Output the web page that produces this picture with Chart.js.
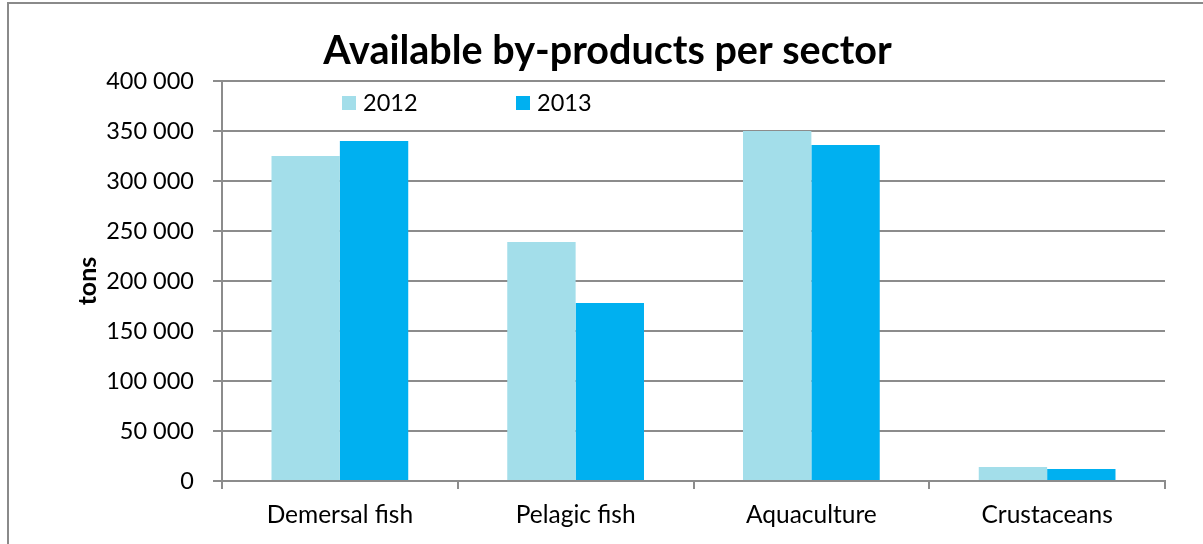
<!DOCTYPE html>
<html>
<head>
<meta charset="utf-8">
<script src="https://cdn.jsdelivr.net/npm/chart.js@4/dist/chart.umd.min.js"></script>
<style>
  html, body { margin: 0; padding: 0; background: #fff; overflow: hidden; }
  #frame { position: absolute; left: 7px; top: 2px; width: 1400px; height: 800px;
           border-left: 2px solid #8a8a8a; border-top: 2px solid #8a8a8a; }
  #chart { position: absolute; left: 0; top: 0; }
</style>
</head>
<body>
<div id="frame"></div>
<canvas id="chart" width="1203" height="544"></canvas>
<script>
const categories = ['Demersal fish', 'Pelagic fish', 'Aquaculture', 'Crustaceans'];
const seriesNames = ['2012', '2013'];
const values2012 = [325000, 239000, 350000, 14000];
const values2013 = [340000, 178000, 336000, 12000];
const yMin = 0;
const yMax = 400000;
const yStep = 50000;

const gridGray = '#8c8c8c';
const fontFamily = 'Lato, "DejaVu Sans", sans-serif';

const fmt = v => String(v).replace(/\B(?=(\d{3})+(?!\d))/g, ' ');

// legend sits inside the plot, like the original
const insideLegend = {
    id: 'insideLegend',
    afterDraw: (chart) => {
        const ctx = chart.ctx;
        const xs = [342, 516];
        ctx.save();
        ctx.font = '23.5px ' + fontFamily;
        ctx.textBaseline = 'middle';
        ctx.textAlign = 'left';
        chart.data.datasets.forEach((ds, i) => {
            ctx.fillStyle = ds.backgroundColor;
            ctx.fillRect(xs[i], 96, 14, 14);
            ctx.fillStyle = '#000';
            ctx.fillText(ds.label, xs[i] + 21, 103);
        });
        ctx.restore();
    }
};

const ctx = document.getElementById('chart').getContext('2d');
const chart = new Chart(ctx, {
    type: 'bar',
    plugins: [insideLegend],
    data: {
        labels: categories,
        datasets: [{
            label: seriesNames[0],
            data: values2012,
            backgroundColor: '#a3deea',
            categoryPercentage: 0.58,
            barPercentage: 1
        }, {
            label: seriesNames[1],
            data: values2013,
            backgroundColor: '#00b0f0',
            categoryPercentage: 0.58,
            barPercentage: 1
        }]
    },
    options: {
        responsive: false,
        animation: false,
        devicePixelRatio: 1,
        layout: { padding: { left: 50, right: 38, top: 0, bottom: 0 } },
        plugins: {
            legend: { display: false },
            tooltip: { enabled: false },
            title: {
                display: true,
                text: 'Available by-products per sector',
                color: '#000',
                font: { family: fontFamily, size: 39.5, weight: 'bold', lineHeight: 1.2 },
                padding: { top: 28, bottom: 5.6 }
            }
        },
        scales: {
            x: {
                afterFit: (s) => { s.height = 63; },
                grid: {
                    drawOnChartArea: false,
                    drawTicks: true,
                    tickLength: 8,
                    color: gridGray,
                    lineWidth: 2
                },
                border: { display: true, color: gridGray, width: 2 },
                ticks: {
                    color: '#000',
                    padding: 11,
                    font: { family: fontFamily, size: 24.5 }
                }
            },
            y: {
                min: yMin,
                max: yMax,
                afterFit: (s) => { s.width = 172; },
                grid: {
                    color: gridGray,
                    lineWidth: 2,
                    tickLength: 9
                },
                border: { display: true, color: gridGray, width: 2 },
                ticks: {
                    stepSize: yStep,
                    color: '#000',
                    padding: 19,
                    font: { family: fontFamily, size: 23.5 },
                    callback: (v) => fmt(v)
                },
                title: {
                    display: true,
                    text: 'tons',
                    color: '#000',
                    font: { family: fontFamily, size: 25, weight: 'bold', lineHeight: 1.2 },
                    padding: { top: 23 }
                }
            }
        }
    }
});
</script>
</body>
</html>
